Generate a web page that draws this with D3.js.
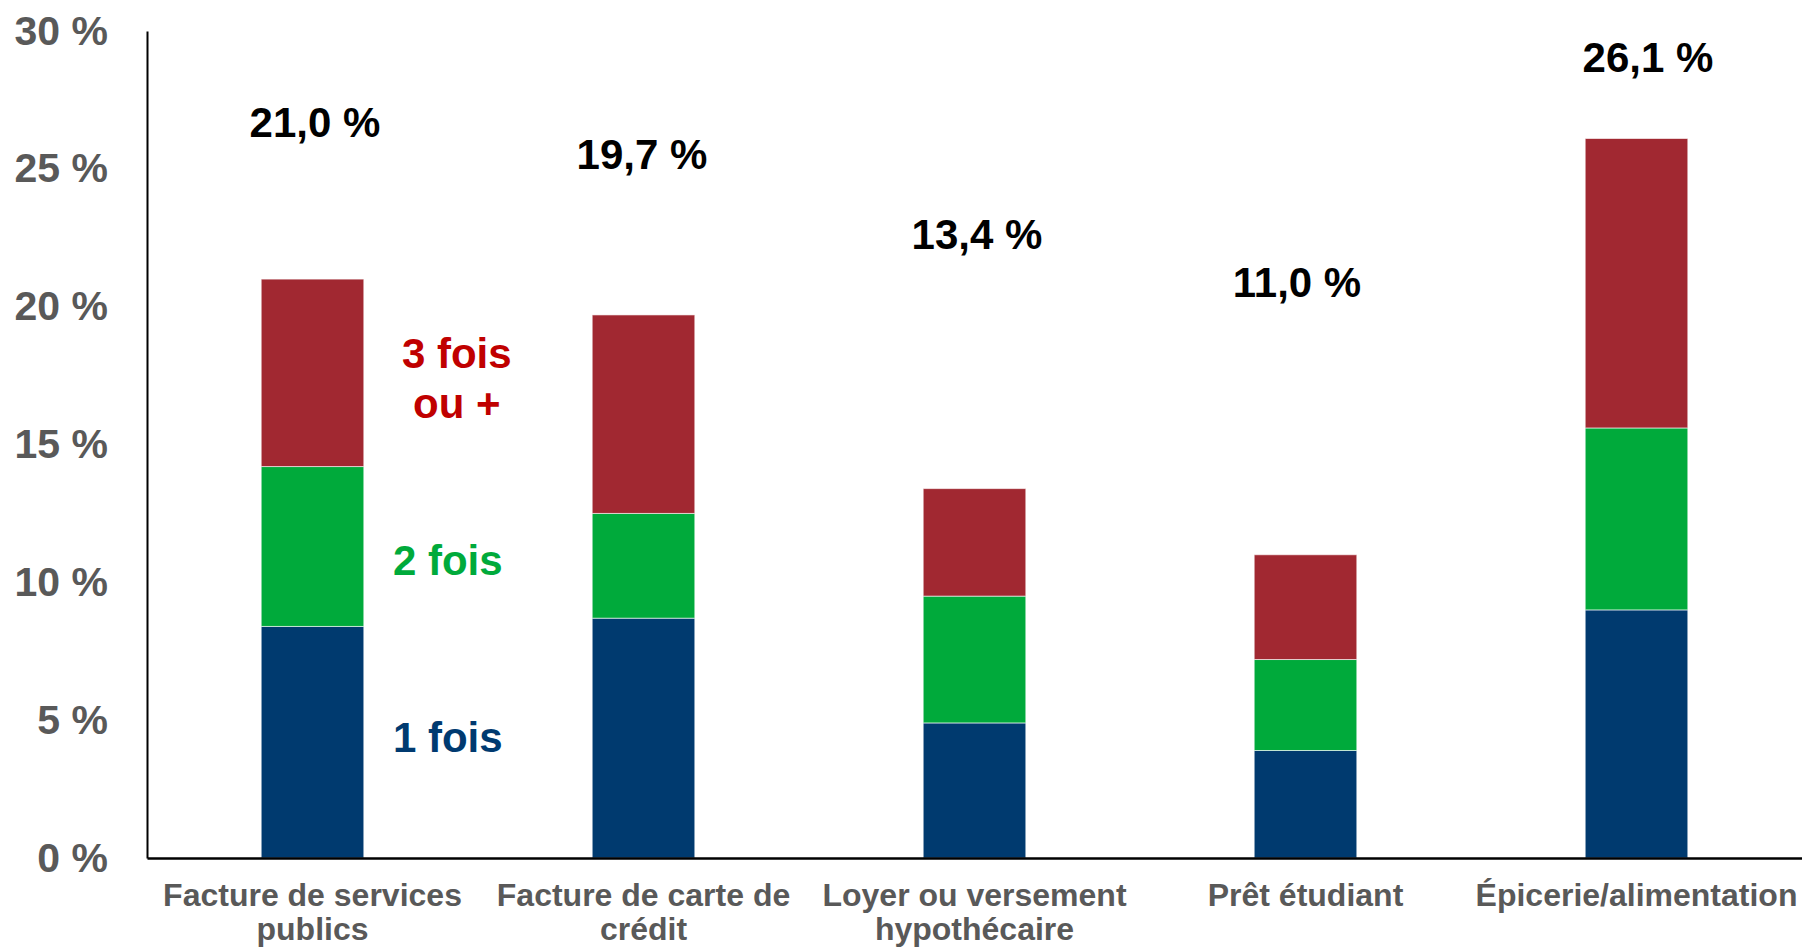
<!DOCTYPE html>
<html>
<head>
<meta charset="utf-8">
<script src="https://cdn.jsdelivr.net/npm/d3@7"></script>
<style>
	html, body { margin: 0; padding: 0; background: #fff; }
	svg { display: block; font-family: "Liberation Sans", Arial, sans-serif; }
</style>
</head>
<body>
<div id="chart"></div>
<script>
'use strict';

// data
var categories = [
	['Facture de services', 'publics'],
	['Facture de carte de', 'crédit'],
	['Loyer ou versement', 'hypothécaire'],
	['Prêt étudiant'],
	['Épicerie/alimentation']
];
var series = ['1 fois', '2 fois', '3 fois ou +'];
var once = [8.4, 8.7, 4.9, 3.9, 9.0];
var twice = [5.8, 3.8, 4.6, 3.3, 6.6];
var threePlus = [6.8, 7.2, 3.9, 3.8, 10.5];
var totals = ['21,0 %', '19,7 %', '13,4 %', '11,0 %', '26,1 %'];
var yTicks = [0, 5, 10, 15, 20, 25, 30];

// layout: where the total labels sit (axis units) and their sideways nudge (px)
var totalLabelAt = [26.15, 25.0, 22.1, 20.35, 28.5];
var totalLabelDx = [2.5, -1.5, 2.5, -8.5, 11.5];

var width = 1802;
var height = 949;
var margin = {top: 31, right: 0, bottom: 91, left: 147};

var barColors = ['#003a6f', '#00aa3b', '#a12831'];
var textColors = ['#003a70', '#00aa3b', '#c00000'];

var svg = d3.select('#chart')
	.append('svg')
	.attr('width', width)
	.attr('height', height);

var x = d3.scaleBand()
	.domain(d3.range(categories.length))
	.range([margin.left, width - margin.right])
	.paddingInner(0.69)
	.paddingOuter(0.345);

var y = d3.scaleLinear()
	.domain([0, 30])
	.range([height - margin.bottom, margin.top]);

// stack the three series
var rows = categories.map(function (c, i) {
	return {i: i, s0: once[i], s1: twice[i], s2: threePlus[i]};
});
var stack = d3.stack().keys(['s0', 's1', 's2']);
var layers = stack(rows);

var viz = svg.append('g');

viz.selectAll('g.layer')
	.data(layers)
	.enter()
	.append('g')
	.attr('class', 'layer')
	.attr('fill', function (d, i) { return barColors[i]; })
	.selectAll('rect')
	.data(function (d) { return d; })
	.enter()
	.append('rect')
	.attr('x', function (d) { return x(d.data.i); })
	.attr('y', function (d) { return y(d[1]); })
	.attr('width', x.bandwidth())
	.attr('height', function (d) { return y(d[0]) - y(d[1]); })
	.attr('stroke', 'rgba(255,255,255,0.6)')
	.attr('stroke-width', 1);

// y axis
var yAxis = d3.axisLeft(y)
	.tickValues(yTicks)
	.tickSize(0)
	.tickPadding(39)
	.tickFormat(function (d) { return d + ' %'; });

var ya = viz.append('g')
	.attr('transform', 'translate(' + margin.left + ',0)')
	.call(yAxis);
ya.select('.domain')
	.attr('stroke', '#000')
	.attr('stroke-width', 2);
ya.selectAll('text')
	.attr('fill', '#595959')
	.attr('font-size', 41)
	.attr('font-weight', 'bold')
	.attr('font-family', '"Liberation Sans", Arial, sans-serif');

// x axis
var xAxis = d3.axisBottom(x)
	.tickSize(0)
	.tickFormat('');

var xa = viz.append('g')
	.attr('transform', 'translate(0,' + y(0) + ')')
	.call(xAxis);
xa.select('.domain')
	.attr('stroke', '#000')
	.attr('stroke-width', 2.5);

var catLabel = xa.selectAll('g.tick')
	.append('text')
	.attr('fill', '#595959')
	.attr('font-size', 32)
	.attr('font-weight', 'bold')
	.attr('text-anchor', 'middle')
	.attr('font-family', '"Liberation Sans", Arial, sans-serif');

catLabel.selectAll('tspan')
	.data(function (d) { return categories[d]; })
	.enter()
	.append('tspan')
	.attr('x', 0)
	.attr('y', function (d, i) { return 48 + i * 34; })
	.text(function (d) { return d; });

// totals above bars
viz.append('g')
	.selectAll('text')
	.data(totals)
	.enter()
	.append('text')
	.text(function (d) { return d; })
	.attr('x', function (d, i) { return x(i) + x.bandwidth() / 2 + totalLabelDx[i]; })
	.attr('y', function (d, i) { return y(totalLabelAt[i]); })
	.attr('text-anchor', 'middle')
	.attr('font-size', 42)
	.attr('font-weight', 'bold')
	.attr('fill', '#000');

// series labels next to the first bar
var lx = x(0) + x.bandwidth() + 84;
var legend = [
	{lines: [series[0]], at: [3.84], c: 0, dx: 0},
	{lines: [series[1]], at: [10.26], c: 1, dx: 0},
	{lines: [series[2].slice(0, 6), series[2].slice(7)], at: [17.77, 15.96], c: 2, dx: 9}
];

var lg = viz.append('g')
	.selectAll('text')
	.data(legend)
	.enter()
	.append('text')
	.attr('text-anchor', 'middle')
	.attr('font-size', 42)
	.attr('font-weight', 'bold')
	.attr('fill', function (d) { return textColors[d.c]; });

lg.selectAll('tspan')
	.data(function (d) {
		return d.lines.map(function (l, k) { return {t: l, v: d.at[k], dx: d.dx}; });
	})
	.enter()
	.append('tspan')
	.attr('x', function (d) { return lx + d.dx; })
	.attr('y', function (d) { return y(d.v); })
	.text(function (d) { return d.t; });
</script>
</body>
</html>
